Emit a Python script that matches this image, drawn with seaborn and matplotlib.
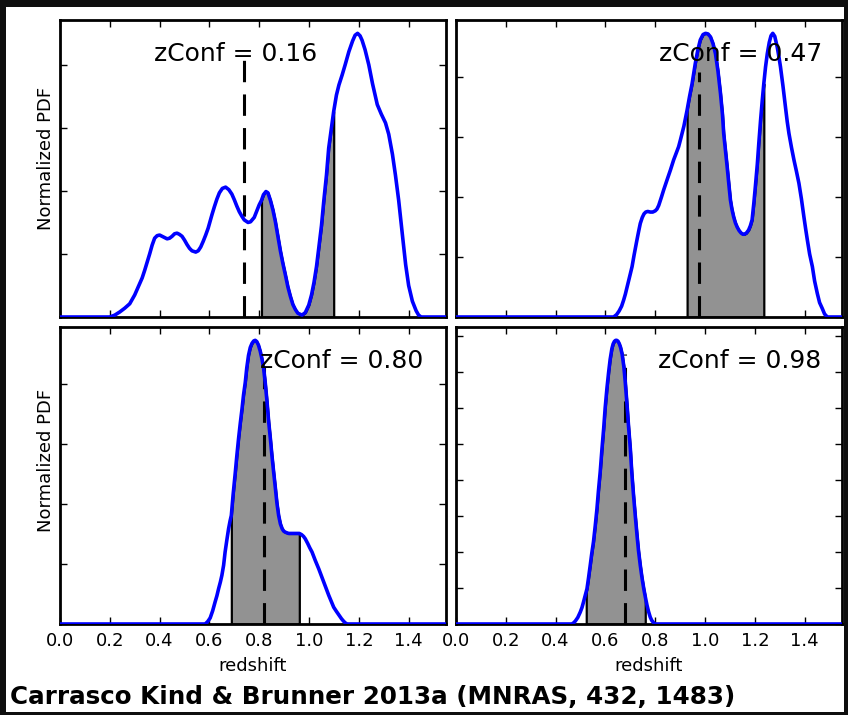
import numpy as np
import pandas as pd
import matplotlib
matplotlib.use("Agg")
import matplotlib.pyplot as plt
import seaborn as sns
from matplotlib.patches import Rectangle

sns.set_style("ticks")
plt.rcParams["font.family"] = ["DejaVu Sans"]
plt.rcParams["text.color"] = "black"
plt.rcParams["axes.labelcolor"] = "black"
plt.rcParams["xtick.color"] = "black"
plt.rcParams["ytick.color"] = "black"

# ---------------- data (y in tick units) ----------------
tl_z = [0.00, 0.20, 0.22, 0.24, 0.26, 0.28, 0.30, 0.31, 0.32, 0.33, 0.34, 0.35, 0.36,
        0.37, 0.38, 0.39, 0.40, 0.41, 0.42, 0.43, 0.44, 0.45, 0.46, 0.47, 0.48, 0.49,
        0.50, 0.51, 0.52, 0.53, 0.545, 0.555, 0.565, 0.575, 0.585, 0.595, 0.60, 0.61,
        0.62, 0.63, 0.64, 0.652, 0.665, 0.678, 0.69, 0.70, 0.71, 0.72, 0.73, 0.74,
        0.755, 0.765, 0.78, 0.79, 0.80, 0.809, 0.817, 0.827, 0.835, 0.845, 0.855,
        0.865, 0.875, 0.885, 0.895, 0.905, 0.915, 0.925, 0.935, 0.945, 0.955, 0.972,
        0.985, 0.999, 1.01, 1.02, 1.03, 1.039, 1.05, 1.059, 1.07, 1.079, 1.09, 1.099,
        1.11, 1.12, 1.133, 1.145, 1.16, 1.175, 1.185, 1.195, 1.205, 1.213, 1.225,
        1.24, 1.255, 1.274, 1.29, 1.307, 1.32, 1.335, 1.347, 1.36, 1.375, 1.388, 1.40,
        1.415, 1.43, 1.44, 1.45, 1.55]
tl_p = [0.00, 0.00, 0.03, 0.08, 0.14, 0.21, 0.35, 0.44, 0.53, 0.62, 0.74, 0.87, 1.00,
        1.14, 1.25, 1.29, 1.30, 1.28, 1.26, 1.24, 1.25, 1.28, 1.32, 1.33, 1.31, 1.28,
        1.22, 1.15, 1.09, 1.05, 1.03, 1.05, 1.11, 1.20, 1.30, 1.41, 1.48, 1.62,
        1.75, 1.87, 1.97, 2.04, 2.06, 2.02, 1.95, 1.86, 1.76, 1.67, 1.60, 1.54,
        1.50, 1.51, 1.58, 1.68, 1.78, 1.85, 1.94, 1.99, 1.97, 1.85, 1.70,
        1.51, 1.28, 1.05, 0.85, 0.67, 0.48, 0.33, 0.20, 0.12, 0.06, 0.03,
        0.07, 0.19, 0.35, 0.55, 0.80, 1.09, 1.45, 1.83, 2.25, 2.68, 3.00, 3.26,
        3.52, 3.68, 3.84, 4.00, 4.21, 4.38, 4.47, 4.50, 4.46, 4.39, 4.24,
        4.00, 3.70, 3.37, 3.22, 3.08, 2.90, 2.58, 2.25, 1.85, 1.30, 0.83, 0.50,
        0.25, 0.10, 0.03, 0.00, 0.00]

tr_z = [0.00, 0.633, 0.645, 0.655, 0.665, 0.673, 0.68, 0.69, 0.70, 0.707, 0.715, 0.725,
        0.733, 0.74, 0.748, 0.755, 0.762, 0.77, 0.78, 0.79, 0.80, 0.807, 0.814, 0.825,
        0.834, 0.847, 0.861, 0.874, 0.885, 0.894, 0.901, 0.915, 0.928, 0.938, 0.948,
        0.961, 0.971, 0.981, 0.992, 1.002, 1.012, 1.022, 1.032, 1.042, 1.052, 1.062,
        1.07, 1.075, 1.082, 1.089, 1.096, 1.102, 1.108, 1.115, 1.122, 1.129, 1.137,
        1.145, 1.152, 1.158, 1.166, 1.175, 1.182, 1.189, 1.196, 1.202, 1.21, 1.216,
        1.223, 1.23, 1.236, 1.243, 1.25, 1.258, 1.265, 1.272, 1.28, 1.29, 1.297, 1.303,
        1.313, 1.323, 1.33, 1.337, 1.347, 1.357, 1.367, 1.377, 1.387, 1.397, 1.404,
        1.411, 1.42, 1.431, 1.44, 1.451, 1.46, 1.471, 1.48, 1.491, 1.55]
tr_p = [0.00, 0.00, 0.04, 0.10, 0.18, 0.28, 0.38, 0.55, 0.72, 0.84, 1.03, 1.25,
        1.42, 1.56, 1.66, 1.72, 1.75, 1.76, 1.75, 1.75, 1.77, 1.80, 1.86, 2.00,
        2.12, 2.28, 2.45, 2.62, 2.74, 2.84, 2.95, 3.18, 3.45, 3.68, 3.89,
        4.23, 4.45, 4.62, 4.71, 4.73, 4.72, 4.67, 4.56, 4.39, 4.10, 3.73,
        3.38, 3.06, 2.78, 2.50, 2.20, 1.95, 1.80, 1.67, 1.57, 1.50, 1.44,
        1.40, 1.38, 1.38, 1.40, 1.45, 1.52, 1.62, 1.90, 2.17, 2.55, 2.90,
        3.28, 3.62, 3.89, 4.17, 4.39, 4.58, 4.69, 4.73, 4.68, 4.50, 4.33, 4.17,
        3.85, 3.50, 3.26, 3.06, 2.83, 2.62, 2.43, 2.23, 1.97, 1.67, 1.47,
        1.28, 1.05, 0.84, 0.60, 0.39, 0.24, 0.14, 0.05, 0.00, 0.00]

bl_z = [0.00, 0.583, 0.593, 0.603, 0.613, 0.623, 0.63, 0.637, 0.644, 0.65, 0.657,
        0.663, 0.67, 0.677, 0.683, 0.688, 0.695, 0.704, 0.71, 0.717, 0.724, 0.731,
        0.737, 0.744, 0.75, 0.757, 0.764, 0.771, 0.778, 0.784, 0.79, 0.797, 0.804,
        0.811, 0.818, 0.824, 0.831, 0.838, 0.845, 0.851, 0.858, 0.865, 0.871, 0.878,
        0.885, 0.892, 0.898, 0.905, 0.918, 0.94, 0.955, 0.961, 0.97, 0.978, 0.985,
        0.995, 1.003, 1.012, 1.025, 1.039, 1.049, 1.059, 1.069, 1.079, 1.089, 1.099,
        1.11, 1.12, 1.13, 1.138, 1.145, 1.153, 1.55]
bl_p = [0.00, 0.00, 0.04, 0.10, 0.22, 0.37, 0.47, 0.59, 0.70, 0.81, 0.98,
        1.20, 1.40, 1.59, 1.72, 1.81, 2.15, 2.53, 2.80, 3.09, 3.35, 3.59,
        3.82, 4.03, 4.27, 4.48, 4.61, 4.68, 4.72, 4.73, 4.71, 4.65, 4.55,
        4.42, 4.25, 4.03, 3.72, 3.37, 3.08, 2.81, 2.53, 2.26, 2.02, 1.81,
        1.67, 1.59, 1.55, 1.53, 1.51, 1.51, 1.51, 1.51, 1.49, 1.46, 1.42,
        1.34, 1.27, 1.20, 1.06, 0.92, 0.81, 0.70, 0.59, 0.48, 0.38, 0.28,
        0.21, 0.15, 0.09, 0.05, 0.02, 0.00, 0.00]

br_z = [0.00, 0.465, 0.472, 0.479, 0.489, 0.499, 0.506, 0.512, 0.518, 0.523, 0.526,
        0.532, 0.539, 0.545, 0.552, 0.559, 0.566, 0.572, 0.579, 0.586, 0.593, 0.599,
        0.606, 0.613, 0.619, 0.626, 0.631, 0.636, 0.641, 0.646, 0.651, 0.656, 0.661,
        0.667, 0.674, 0.68, 0.687, 0.693, 0.70, 0.706, 0.713, 0.72, 0.727, 0.733,
        0.74, 0.747, 0.754, 0.76, 0.767, 0.773, 0.78, 0.786, 0.793, 0.80, 1.55]
br_p = [0.00, 0.00, 0.03, 0.08, 0.18, 0.33, 0.46, 0.61, 0.77, 0.90, 0.98,
        1.27, 1.63, 1.95, 2.28, 2.72, 3.20, 3.70, 4.22, 4.85, 5.43, 6.00,
        6.54, 7.00, 7.35, 7.65, 7.78, 7.85, 7.88, 7.88, 7.85, 7.78, 7.68,
        7.50, 7.15, 6.70, 6.07, 5.48, 4.87, 4.20, 3.57, 3.00, 2.46, 2.03,
        1.63, 1.28, 0.98, 0.76, 0.52, 0.35, 0.19, 0.10, 0.04, 0.00, 0.00]

conf_labels = ["0.16", "0.47", "0.80", "0.98"]
shade_lo = [0.809, 0.928, 0.688, 0.523]
shade_hi = [1.099, 1.236, 0.961, 0.760]
zphot = [0.740, 0.975, 0.818, 0.680]
dash_top = [4.14, 4.08, 4.28, 7.50]

xtick_vals = [0.0, 0.2, 0.4, 0.6, 0.8, 1.0, 1.2, 1.4]
xtick_labels = ["0.0", "0.2", "0.4", "0.6", "0.8", "1.0", "1.2", "1.4"]

# ---------------- layout ----------------
W, H = 848, 715
fig = plt.figure(figsize=(W / 100, H / 100), dpi=100, facecolor="#0e0e0e")
fig.add_artist(Rectangle((6 / W, (H - 712) / H), (844 - 6) / W, (712 - 7) / H,
                         transform=fig.transFigure, facecolor="white",
                         edgecolor="none", zorder=-5))

# axes boxes in pixels: (left, top, right, bottom)
boxes = [(60, 20, 446, 317), (456, 20, 842, 317),
         (60, 327, 446, 624), (456, 327, 842, 624)]
text_x = [0.379, 0.814, 0.805, 0.81]
ylabel_y = [0.534, 0.55]

curves = [(tl_z, tl_p), (tr_z, tr_p), (bl_z, bl_p), (br_z, br_p)]

for i, ((zz, pp), box) in enumerate(zip(curves, boxes)):
    l, t, r, b = box
    ax = fig.add_axes([l / W, (H - b) / H, (r - l) / W, (b - t) / H])
    df = pd.DataFrame({"z": zz, "p": pp})
    m = (df["z"] >= shade_lo[i] - 1e-9) & (df["z"] <= shade_hi[i] + 1e-9)
    ax.fill_between(df["z"][m], 0, df["p"][m], facecolor="#929292",
                    edgecolor="black", linewidth=1.6, zorder=1)
    ax.plot([zphot[i], zphot[i]], [0, dash_top[i]], color="black", lw=2.2,
            dashes=(7, 4), zorder=2.6)
    sns.lineplot(data=df, x="z", y="p", ax=ax, color="blue", linewidth=2.6,
                 estimator=None, sort=False, zorder=3)
    ymax = 1.047 * max(pp)
    ax.set_xlim(0, 1.55)
    ax.set_ylim(0, ymax)
    ax.set_xticks(xtick_vals)
    ax.set_yticks(np.arange(0, int(np.floor(ymax)) + 1))
    ax.tick_params(direction="in", top=True, right=True, length=5, width=1.0,
                   labelleft=False, labelsize=13, pad=6, colors="black")
    for s in ax.spines.values():
        s.set_linewidth(2.0)
        s.set_color("black")
    if i >= 2:
        ax.set_xticklabels(xtick_labels)
        ax.set_xlabel("redshift", fontsize=13, labelpad=5, color="black")
    else:
        ax.tick_params(labelbottom=False)
        ax.set_xlabel("")
    if i % 2 == 0:
        ax.set_ylabel("Normalized PDF", fontsize=13, color="black")
        ax.yaxis.set_label_coords(-0.013, ylabel_y[i // 2])
    else:
        ax.set_ylabel("")
    ax.text(text_x[i], 0.863, "zConf = " + conf_labels[i], fontsize=18,
            color="black", ha="left", va="baseline",
            transform=ax.get_xaxis_transform(), zorder=4)

fig.text(10 / W, (H - 704) / H, "Carrasco Kind & Brunner 2013a (MNRAS, 432, 1483)",
         fontsize=17.7, fontweight="bold", color="black", ha="left", va="baseline")

fig.savefig("out.png", dpi=100, facecolor=fig.get_facecolor())
